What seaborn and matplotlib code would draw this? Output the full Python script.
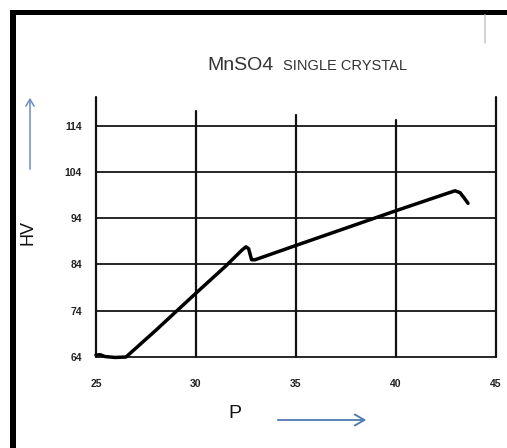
import matplotlib
matplotlib.use("Agg")
import matplotlib.pyplot as plt
from matplotlib.patches import Rectangle, FancyArrowPatch
from matplotlib.lines import Line2D
import pandas as pd
import seaborn as sns

# Load (P) against Vickers hardness (HV) of the MnSO4 crystal
p_values = [25.0, 25.2, 25.45, 25.95, 26.5, 28.0, 30.0, 31.5, 32.3, 32.5, 32.63,
            32.78, 32.95, 35.0, 40.0, 42.6, 42.95, 43.2, 43.4, 43.6]
hv_values = [64.4, 64.5, 64.1, 63.9, 64.0, 69.8, 77.8, 83.7, 87.1, 87.8, 87.4,
             85.0, 85.0, 88.1, 95.6, 99.4, 99.9, 99.5, 98.4, 97.2]

x_ticks = [25, 30, 35, 40, 45]
x_tick_labels = ["25", "30", "35", "40", "45"]
y_ticks = [64, 74, 84, 94, 104, 114]
y_tick_labels = ["64", "74", "84", "94", "104", "114"]
# top end of each vertical grid line
v_line_tops = [120.2, 117.1, 116.3, 115.2, 120.2]

df = pd.DataFrame({"P": p_values, "HV": hv_values})

sns.set_style("white")
plt.rcParams["font.family"] = ["Liberation Sans", "DejaVu Sans"]

W, H = 507, 448
fig = plt.figure(figsize=(W / 100, H / 100), dpi=100)
ax = fig.add_axes([96 / W, 91 / H, 410 / W, 263.9 / H])
ax.set_xlim(25, 45.5)
ax.set_ylim(64, 121)

# grid drawn as plain lines
for y in y_ticks:
    ax.plot([x_ticks[0], x_ticks[-1]], [y, y], color="#262626", lw=1.4,
            clip_on=False, zorder=1)
for x, top in zip(x_ticks, v_line_tops):
    ax.plot([x, x], [y_ticks[0], top], color="#111111", lw=1.6,
            clip_on=False, zorder=1)

sns.lineplot(data=df, x="P", y="HV", sort=False, color="black", lw=2.5,
             ax=ax, zorder=3, clip_on=False)

for s in ax.spines.values():
    s.set_visible(False)
ax.set_xlabel("")
ax.set_ylabel("")
ax.set_xticks(x_ticks)
ax.set_xticklabels(x_tick_labels, fontsize=7.5, fontweight="bold", color="#222222")
ax.set_yticks(y_ticks)
ax.set_yticklabels(y_tick_labels, fontsize=7.5, fontweight="bold", color="#222222")
ax.tick_params(axis="x", length=0, pad=15.5)
ax.tick_params(axis="y", length=0, pad=10)

# titles and axis names
fig.text(207 / W, (H - 70) / H, "MnSO4", fontsize=14, color="#333333",
         va="baseline", ha="left")
fig.text(283 / W, (H - 70) / H, "SINGLE CRYSTAL", fontsize=10.5, color="#333333",
         va="baseline", ha="left")
fig.text(28 / W, (H - 232) / H, "HV", fontsize=13, rotation=90,
         va="center", ha="center", color="#111111")
fig.text(235 / W, (H - 413) / H, "P", fontsize=14, va="center", ha="center",
         color="#111111")

# direction arrows
fig.add_artist(FancyArrowPatch(
    (30, H - 172), (30, H - 95), transform=None,
    arrowstyle="->,head_length=5,head_width=3",
    color="#6f8cc4", lw=1.1, mutation_scale=1))
fig.add_artist(FancyArrowPatch(
    (275, H - 420), (369, H - 420), transform=None,
    arrowstyle="->,head_length=7,head_width=4",
    color="#4f78b0", lw=1.3, mutation_scale=1))

# page frame
fig.add_artist(Rectangle((10 / W, 0), 6 / W, (H - 10) / H, transform=fig.transFigure,
                         color="black", lw=0))
fig.add_artist(Rectangle((10 / W, (H - 15) / H), (W - 10) / W, 5 / H,
                         transform=fig.transFigure, color="black", lw=0))
fig.add_artist(Line2D([485 / W, 485 / W], [(H - 43) / H, (H - 15) / H],
                      transform=fig.transFigure, color="#cccccc", lw=1.2))

fig.savefig("out.png", dpi=100)
